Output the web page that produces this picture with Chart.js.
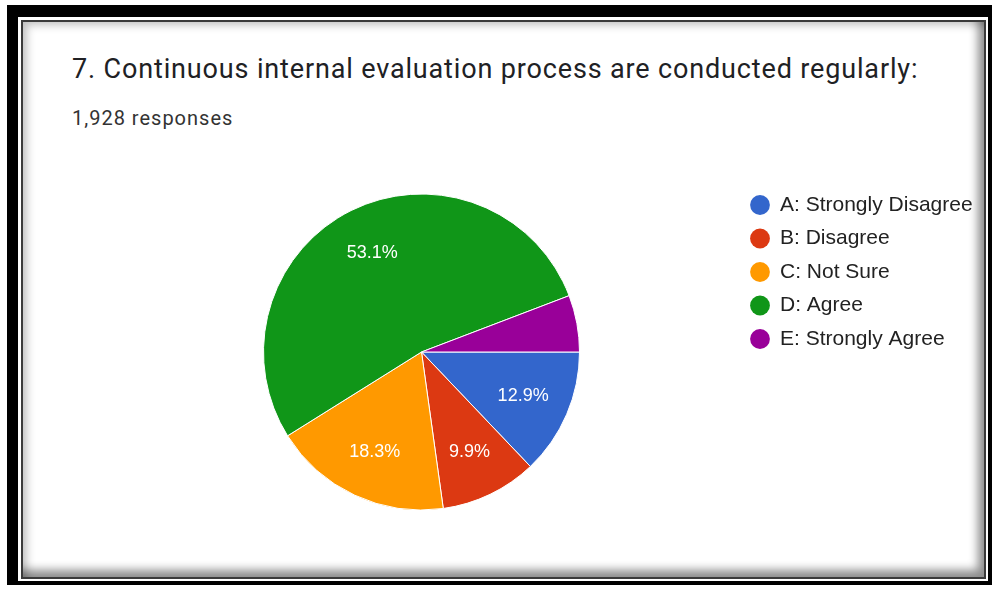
<!DOCTYPE html>
<html>
<head>
<meta charset="utf-8">
<script src="https://cdn.jsdelivr.net/npm/chart.js@4.4.1/dist/chart.umd.min.js"></script>
<style>
    html, body { margin: 0; padding: 0; background: #fff; }
    body { width: 993px; height: 590px; position: relative; overflow: hidden; }
    .frame {
        position: absolute; left: 7px; top: 5px; width: 970px; height: 564px;
        border-style: solid; border-color: #000;
        border-width: 12px 4px 4px 11px;
        background: #fff;
    }
    .card {
        position: absolute; left: 21px; top: 20px; width: 961px; height: 555px;
        border: 2px solid #3a3a3a;
        background: #fff;
        box-shadow: inset -9px -10px 10px -3px rgba(0,0,0,0.45), inset 7px 6px 8px -3px rgba(0,0,0,0.25);
    }
    .title {
        position: absolute; left: 72px; top: 54px; font-family: Roboto, sans-serif;
        font-size: 27px; line-height: 30px; letter-spacing: 0.85px; color: #202124; white-space: nowrap;
    }
    .subtitle {
        position: absolute; left: 72px; top: 107px; font-family: Roboto, sans-serif;
        font-size: 20px; line-height: 22px; letter-spacing: 1px; color: #333; white-space: nowrap;
    }
    #responsesChart { position: absolute; left: 0; top: 0; }
</style>
</head>
<body>
<div class="frame"></div>
<div class="card"></div>
<div class="title">7. Continuous internal evaluation process are conducted regularly:</div>
<div class="subtitle">1,928 responses</div>
<canvas id="responsesChart" width="993" height="590"></canvas>

<script>
// survey answers, share of 1,928 responses (%)
const categories = ['A: Strongly Disagree', 'B: Disagree', 'C: Not Sure', 'D: Agree', 'E: Strongly Agree'];
const percentages = [12.9, 9.9, 18.3, 53.1, 5.8];
const sliceColors = ['#3366cc', '#dc3912', '#ff9900', '#109618', '#990099'];

// percentage text inside the bigger slices
const sliceLabels = {
    id: 'sliceLabels',
    afterDatasetsDraw(chart) {
        const ctx = chart.ctx;
        const meta = chart.getDatasetMeta(0);
        ctx.save();
        ctx.fillStyle = '#ffffff';
        ctx.font = '18px Arial, "Liberation Sans", sans-serif';
        ctx.textAlign = 'center';
        ctx.textBaseline = 'middle';
        meta.data.forEach((arc, i) => {
            const value = percentages[i];
            if (value < 8) return;
            const p = arc.getProps(['x', 'y', 'startAngle', 'endAngle', 'outerRadius'], true);
            const mid = (p.startAngle + p.endAngle) / 2;
            const r = p.outerRadius * 0.7;
            ctx.fillText(value.toFixed(1) + '%', p.x + Math.cos(mid) * r, p.y + Math.sin(mid) * r);
        });
        ctx.restore();
    }
};

const defaultLabels = Chart.overrides.doughnut.plugins.legend.labels.generateLabels;

const chart = new Chart(document.getElementById('responsesChart'), {
    type: 'pie',
    data: {
        labels: categories,
        datasets: [{
            data: percentages,
            backgroundColor: sliceColors,
            borderColor: '#ffffff',
            borderWidth: 1
        }]
    },
    options: {
        responsive: false,
        animation: false,
        rotation: 90,
        radius: 158,
        layout: {
            padding: { top: 182, bottom: 68, left: 105, right: 10 }
        },
        plugins: {
            tooltip: { enabled: false },
            legend: {
                position: 'right',
                align: 'start',
                labels: {
                    usePointStyle: true,
                    pointStyle: 'circle',
                    boxWidth: 19,
                    boxHeight: 14,
                    padding: 12.5,
                    color: '#222222',
                    font: { family: 'Arial, "Liberation Sans", sans-serif', size: 21 },
                    generateLabels(c) {
                        return defaultLabels(c).map(item => Object.assign(item, { lineWidth: 0 }));
                    }
                }
            }
        }
    },
    plugins: [sliceLabels]
});

// legend left edge fixed at x=738 so the pie centres at x~421
chart.options.layout.padding.right = 993 - 738 - chart.legend.width;
chart.update();
</script>
</body>
</html>
